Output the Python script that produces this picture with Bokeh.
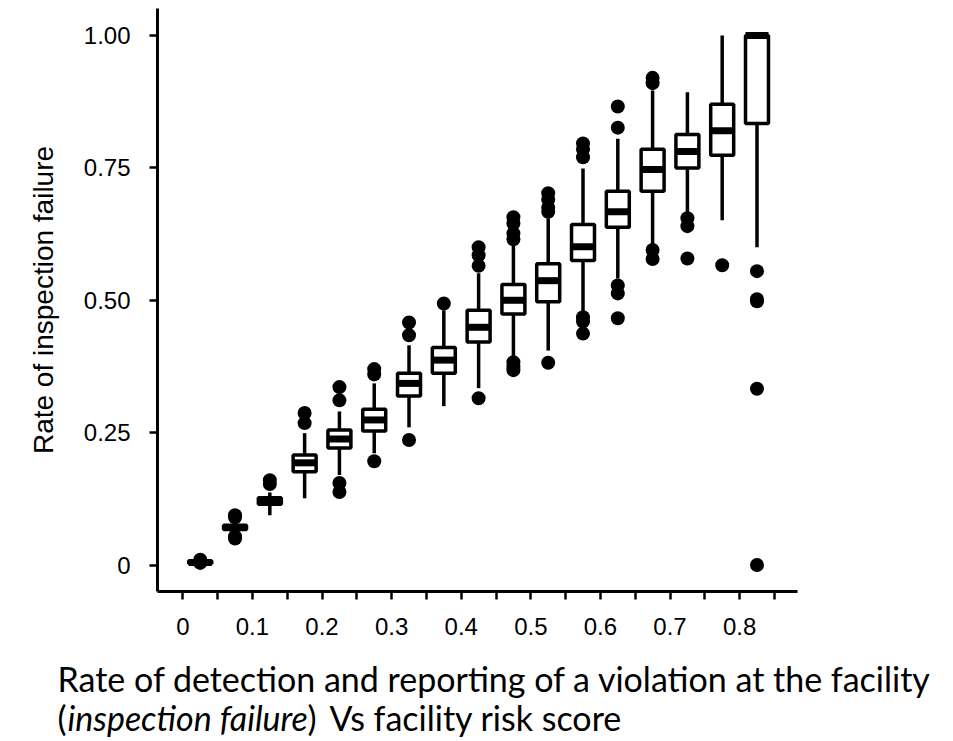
from bokeh.plotting import figure
from bokeh.models import FixedTicker, Range1d, ColumnDataSource
from bokeh.layouts import column
from bokeh.core.properties import value
from bokeh.embed import file_html
from bokeh.resources import INLINE

# ---- data ----
risk_score = [0.025, 0.075, 0.125, 0.175, 0.225, 0.275, 0.325, 0.375, 0.425,
              0.475, 0.525, 0.575, 0.625, 0.675, 0.725, 0.775, 0.825]
q1 = [0.003, 0.067, 0.115, 0.176, 0.221, 0.253, 0.319, 0.362, 0.421,
      0.474, 0.497, 0.575, 0.638, 0.706, 0.750, 0.774, 0.834]
median = [0.005, 0.071, 0.121, 0.193, 0.238, 0.274, 0.343, 0.387, 0.449,
          0.500, 0.537, 0.601, 0.667, 0.747, 0.781, 0.820, 1.000]
q3 = [0.008, 0.075, 0.127, 0.208, 0.255, 0.294, 0.362, 0.411, 0.481,
      0.530, 0.569, 0.643, 0.706, 0.785, 0.813, 0.870, 1.000]
whisker_low = [0.002, 0.062, 0.094, 0.126, 0.170, 0.211, 0.260, 0.300, 0.334,
               0.393, 0.405, 0.474, 0.541, 0.600, 0.664, 0.651, 0.600]
whisker_high = [0.010, 0.080, 0.137, 0.249, 0.290, 0.343, 0.415, 0.481, 0.551,
                0.604, 0.655, 0.749, 0.805, 0.896, 0.893, 1.000, 1.000]

outlier_x = (
    [0.025] * 2 + [0.075] * 4 + [0.125] * 2 + [0.175] * 2 + [0.225] * 4 +
    [0.275] * 3 + [0.325] * 3 + [0.375] * 1 + [0.425] * 4 + [0.475] * 7 +
    [0.525] * 5 + [0.575] * 6 + [0.625] * 5 + [0.675] * 4 + [0.725] * 3 +
    [0.775] * 1 + [0.825] * 5
)
outlier_y = [
    0.004, 0.010,
    0.094, 0.090, 0.054, 0.050,
    0.160, 0.153,
    0.287, 0.268,
    0.336, 0.311, 0.155, 0.138,
    0.370, 0.360, 0.196,
    0.458, 0.434, 0.236,
    0.494,
    0.600, 0.585, 0.565, 0.315,
    0.657, 0.645, 0.626, 0.615, 0.383, 0.375, 0.368,
    0.702, 0.690, 0.675, 0.667, 0.382,
    0.796, 0.785, 0.770, 0.468, 0.460, 0.437,
    0.866, 0.826, 0.528, 0.513, 0.466,
    0.920, 0.910, 0.595, 0.578,
    0.655, 0.640, 0.579,
    0.566,
    0.555, 0.502, 0.498, 0.333, 0.000,
]

x_ticks = [0, 0.1, 0.2, 0.3, 0.4, 0.5, 0.6, 0.7, 0.8]
x_tick_labels = ["0", "0.1", "0.2", "0.3", "0.4", "0.5", "0.6", "0.7", "0.8"]
x_minor_ticks = [0.05, 0.15, 0.25, 0.35, 0.45, 0.55, 0.65, 0.75, 0.85]
y_ticks = [0, 0.25, 0.5, 0.75, 1.0]
y_tick_labels = ["0", "0.25", "0.50", "0.75", "1.00"]

y_title = "Rate of inspection failure"
caption_line1 = "Rate of detection and reporting of a violation at the facility"
caption_open = "("
caption_italic = "inspection failure"
caption_close = ")"
caption_rest = "Vs facility risk score"

# ---- main figure ----
W = 950
H1 = 650
LEFT, TOP = 157, 8
FRAME_W, FRAME_H = 640, 583

p = figure(
    width=W, height=H1, output_backend="svg", toolbar_location=None,
    x_range=Range1d(-0.0364, 0.8832), y_range=Range1d(-0.05, 1.051),
    min_border_left=LEFT, min_border_top=TOP,
    min_border_right=W - LEFT - FRAME_W, min_border_bottom=H1 - TOP - FRAME_H,
)
p.frame_align = False
p.outline_line_color = None
p.background_fill_color = "white"
p.border_fill_color = "white"
p.grid.visible = False

box_src = ColumnDataSource(dict(x=risk_score, q1=q1, med=median, q3=q3,
                                lo=whisker_low, hi=whisker_high))
BOX_W = 0.033
p.segment(x0="x", y0="lo", x1="x", y1="hi", source=box_src,
          line_color="black", line_width=3.5)
p.vbar(x="x", bottom="q1", top="q3", width=BOX_W, source=box_src,
       fill_color="white", line_color="black", line_width=3.5)
p.rect(x="x", y="med", width=BOX_W, height=7, height_units="screen",
       source=box_src, fill_color="black", line_color=None)
p.scatter(x=outlier_x, y=outlier_y, size=14, fill_color="black",
          line_color=None)

for ax in (p.xaxis[0], p.yaxis[0]):
    ax.axis_line_width = 3
    ax.axis_line_color = "black"
    ax.major_tick_line_width = 2.5
    ax.major_tick_line_color = "black"
    ax.major_tick_out = 8
    ax.major_tick_in = 0
    ax.major_label_text_font = "Liberation Sans"
    ax.major_label_text_font_size = "24px"
    ax.major_label_text_color = "black"

p.xaxis.ticker = FixedTicker(ticks=x_ticks, minor_ticks=x_minor_ticks)
p.xaxis.major_label_overrides = dict(zip(x_ticks, x_tick_labels))
p.xaxis.minor_tick_out = 8
p.xaxis.minor_tick_in = 0
p.xaxis.minor_tick_line_width = 2.5
p.xaxis.minor_tick_line_color = "black"
p.xaxis.major_label_standoff = 18

p.yaxis.ticker = FixedTicker(ticks=y_ticks, minor_ticks=[])
p.yaxis.major_label_overrides = dict(zip(y_ticks, y_tick_labels))
p.yaxis.minor_tick_line_color = None
p.yaxis.major_label_standoff = 19
p.yaxis.axis_label = y_title
p.yaxis.axis_label_text_font = "Liberation Sans"
p.yaxis.axis_label_text_font_size = "28px"
p.yaxis.axis_label_text_font_style = "normal"
p.yaxis.axis_label_text_color = "black"
p.yaxis.axis_label_standoff = 22

# ---- caption figure (pixel coordinates, y downward) ----
H2 = 91
c = figure(width=W, height=H2, output_backend="svg", toolbar_location=None,
           title=None, x_range=Range1d(0, W), y_range=Range1d(H2, 0),
           min_border=0, outline_line_color=None)
c.frame_align = False
c.axis.visible = False
c.grid.visible = False
c.background_fill_color = "white"
c.border_fill_color = "white"

CAP_FONT = value("Lato")
CAP_SIZE = value("34px")
def cap(text, x, y, style="normal"):
    c.text(x=[x], y=[y], text=[text], text_font=CAP_FONT,
           text_font_size=CAP_SIZE, text_font_style=style,
           text_color="black", text_baseline="alphabetic", text_align="left")

cap(caption_line1, 57, 28)
cap(caption_open, 57, 67)
cap(caption_italic, 67, 67, "italic")
cap(caption_close, 307, 67)
cap(caption_rest, 329, 67)

open("out.html", "w").write(file_html(column(p, c, spacing=0), INLINE))
